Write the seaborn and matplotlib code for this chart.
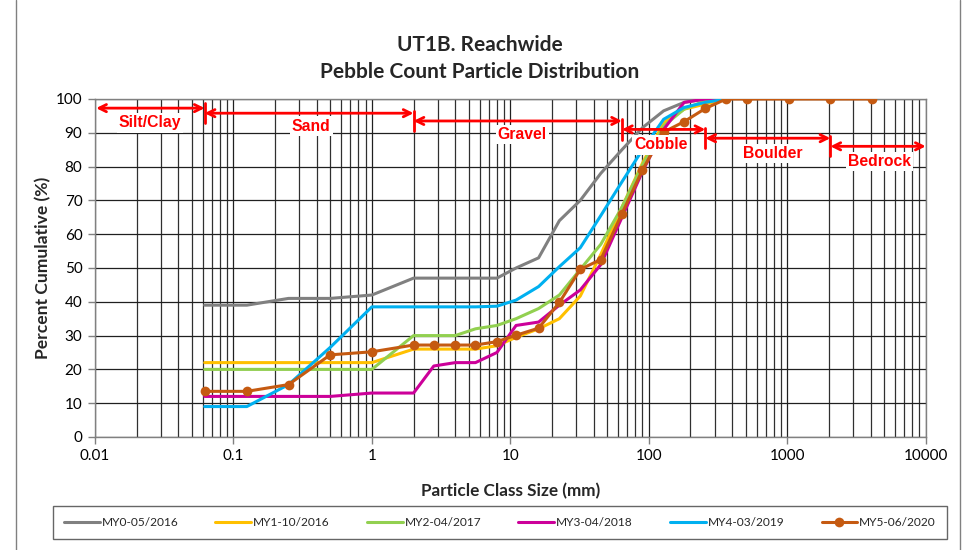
import numpy as np
import pandas as pd
import matplotlib
matplotlib.use("Agg")
import matplotlib.pyplot as plt
import seaborn as sns
from matplotlib.ticker import FixedLocator, LogLocator, NullFormatter, FixedFormatter

# ---- data ----
sizes = [0.062, 0.125, 0.25, 0.5, 1, 2, 2.8, 4, 5.6, 8, 11, 16, 22.6, 32, 45,
         64, 90, 128, 180, 256, 362, 512, 1024, 2048, 4096]

my0 = [39, 39, 41, 41, 42, 47, 47, 47, 47, 47, 50, 53, 64, 70, 78, 85, 91.5, 96.5, 99, 100, 100]
my1 = [22, 22, 22, 22, 22, 26, 26, 26, 26, 27, 29.5, 32, 35, 41.7, 54, 68, 81, 93, 97, 98.5, 100]
my2 = [20, 20, 20, 20, 20, 30, 30, 30, 32, 33, 35, 38, 42, 49.6, 57, 68, 80.5, 92, 97, 99.5, 100]
my3 = [12, 12, 12, 12, 13, 13, 21, 22, 22, 25, 33, 34, 39, 43.5, 51, 65, 78.5, 91, 99, 100, 100]
my4 = [9, 9, 15.5, 26.5, 38.5, 38.5, 38.5, 38.5, 38.5, 38.7, 40.5, 44.5, 50.4, 56, 65.5, 75.5, 85, 94, 97.5, 99, 100]
my5 = [13.5, 13.5, 15.5, 24.3, 25.2, 27.2, 27.2, 27.2, 27.2, 28.2, 30.1, 32.2, 39.8, 49.6, 52.5,
       66.1, 79, 90.2, 93.3, 97.2, 100, 100, 100, 100, 100]

series_names = ["MY0-05/2016", "MY1-10/2016", "MY2-04/2017", "MY3-04/2018", "MY4-03/2019", "MY5-06/2020"]
series_vals = [my0, my1, my2, my3, my4, my5]
series_colors = ["#808080", "#FFC000", "#92D050", "#CC0099", "#00B0F0", "#C55A11"]

zone_labels = ["Silt/Clay", "Sand", "Gravel", "Cobble", "Boulder", "Bedrock"]
zone_bounds = [0.0102, 0.062, 2, 64, 256, 2048, 10000]

x_ticks = [0.01, 0.1, 1, 10, 100, 1000, 10000]
x_tick_labels = ["0.01", "0.1", "1", "10", "100", "1000", "10000"]

# ---- style ----
sns.set_theme(style="white")
plt.rcParams["font.family"] = ["Lato", "DejaVu Sans"]

fig = plt.figure(figsize=(9.64, 5.5), dpi=100)
ax = fig.add_axes([0.0985, 0.2055, 0.8618, 0.6145])

frames = []
for name, vals in zip(series_names, series_vals):
    frames.append(pd.DataFrame({"size": sizes[:len(vals)], "pct": vals, "series": name}))
df = pd.concat(frames, ignore_index=True)

for name, col in zip(series_names, series_colors):
    sub = df[df["series"] == name]
    kw = {}
    if name == "MY5-06/2020":
        kw = dict(marker="o", markersize=7, markeredgewidth=0, markerfacecolor=col)
    sns.lineplot(data=sub, x="size", y="pct", ax=ax, color=col, lw=2.2,
                 label=name, sort=False, zorder=3, **kw)

ax.set_xscale("log")
ax.set_xlim(0.01, 10000)
ax.set_ylim(0, 100)
ax.xaxis.set_major_locator(FixedLocator(x_ticks))
ax.xaxis.set_major_formatter(FixedFormatter(x_tick_labels))
ax.xaxis.set_minor_locator(LogLocator(base=10, subs=np.arange(2, 10), numticks=20))
ax.xaxis.set_minor_formatter(NullFormatter())
ax.set_yticks(np.arange(0, 101, 10))

ax.grid(True, which="major", axis="both", color="#202020", lw=0.9, zorder=0)
ax.grid(True, which="minor", axis="x", color="#303030", lw=0.9, zorder=0)
ax.set_axisbelow(True)
for sp in ax.spines.values():
    sp.set_color("#808080")
    sp.set_linewidth(1)
ax.tick_params(which="major", direction="out", length=5, width=1, color="#808080",
               labelsize=11, labelcolor="black", bottom=True, left=True, pad=4)
ax.tick_params(which="minor", length=0)

ax.set_xlabel("Particle Class Size (mm)", fontsize=12.3, fontweight="bold", labelpad=14)
ax.set_ylabel("Percent Cumulative (%)", fontsize=12.6, fontweight="bold", labelpad=3)

fig.text(0.498, 0.918, "UT1B. Reachwide", ha="center", va="center",
         fontsize=15, fontweight="bold")
fig.text(0.498, 0.869, "Pebble Count Particle Distribution", ha="center", va="center",
         fontsize=15, fontweight="bold")

# ---- zone annotations ----
arrow_y = [97.3, 95.8, 93.5, 91.0, 88.4, 86.0]
text_pos = [(0.025, 92.9), (0.365, 92.0), (12.2, 89.6), (121.7, 86.4), (786, 84.0), (4667, 81.4)]
for i, lab in enumerate(zone_labels):
    x0, x1 = zone_bounds[i], zone_bounds[i + 1]
    ya = arrow_y[i]
    ax.annotate("", xy=(x1, ya), xytext=(x0, ya),
                arrowprops=dict(arrowstyle="<->", color="#FF0000", lw=2,
                                mutation_scale=13, shrinkA=0, shrinkB=0),
                annotation_clip=False, zorder=6)
    if i > 0:
        ax.plot([x0, x0], [ya - 3, ya + 3], color="#FF0000", lw=2, zorder=6, clip_on=False)
    tx, ty = text_pos[i]
    ax.text(tx, ty, lab, color="#FF0000", fontsize=11.3, fontweight="bold",
            family=["Liberation Sans", "DejaVu Sans"], ha="center", va="center", zorder=7,
            bbox=dict(facecolor="white", edgecolor="none", pad=1.5))

# ---- legend ----
handles, labels = ax.get_legend_handles_labels()
ax.get_legend().remove()
leg = fig.legend(handles, labels, loc="center", ncol=6, mode="expand",
                 bbox_to_anchor=(0.055, 0.019, 0.927, 0.062), frameon=True,
                 fancybox=False, edgecolor="#404040", fontsize=8.6, handlelength=3.0,
                 handletextpad=0.15, borderpad=0.9, borderaxespad=0)
leg.get_frame().set_linewidth(1)

# outer chart border
fig.add_artist(plt.Line2D([16 / 964, 16 / 964], [0, 1], color="#808080", lw=1))
fig.add_artist(plt.Line2D([960 / 964, 960 / 964], [0, 1], color="#808080", lw=1))

fig.savefig("out.png", dpi=100)
